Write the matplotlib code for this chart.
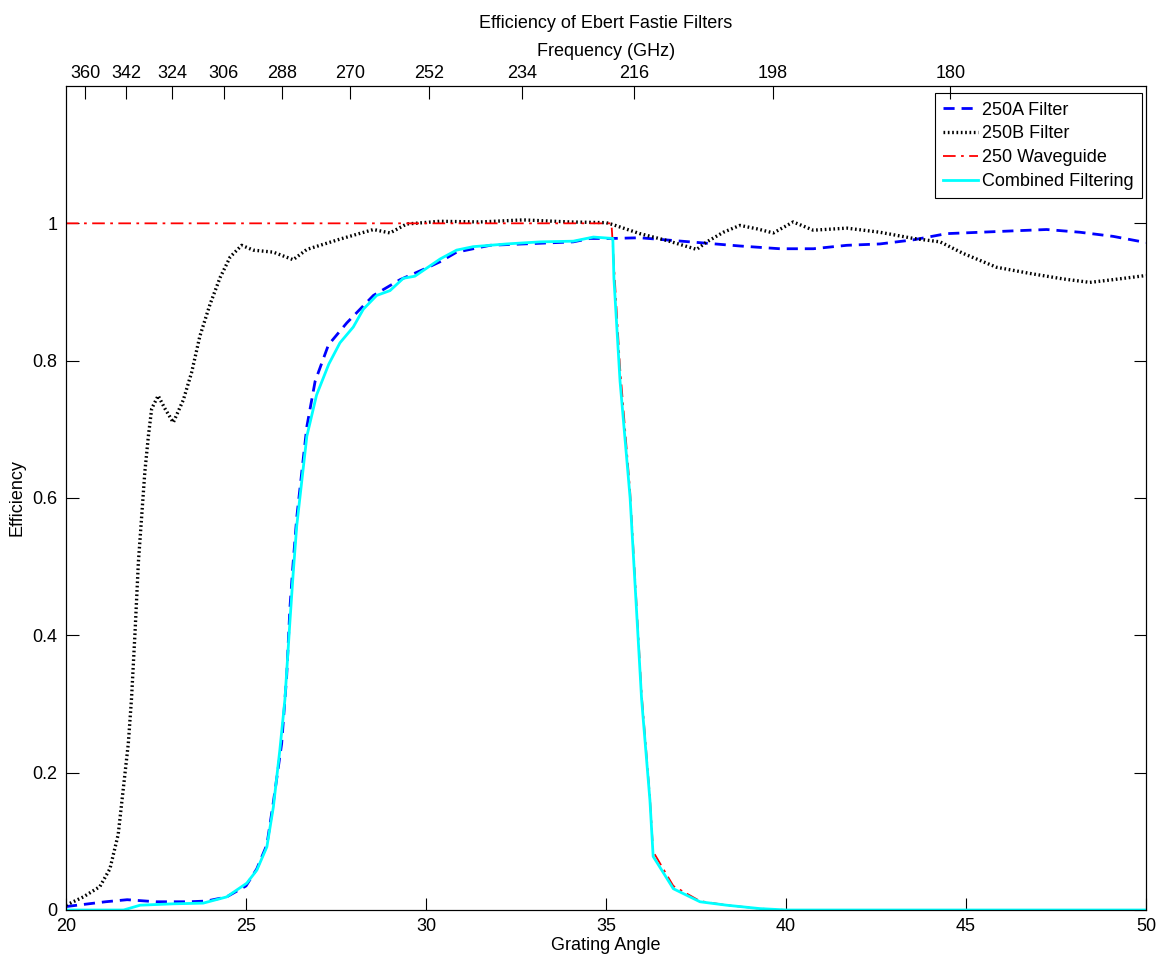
"""
Efficiency of Ebert Fastie filters vs grating angle
"""

import numpy as np
import matplotlib
matplotlib.use('Agg')
import matplotlib.pyplot as plt

plt.rcParams['font.family'] = ['Liberation Sans', 'DejaVu Sans']
plt.rcParams['font.size'] = 13

# 250A filter (blue dashed)
ang_a = [20.0, 21.1, 21.7, 22.5, 23.4, 23.9, 24.46, 25.0, 25.3, 25.58, 25.76, 25.99, 26.13,
         26.22, 26.31, 26.41, 26.55, 26.69, 26.92, 27.29, 27.8, 28.54, 29.28, 30.02,
         30.39, 30.85, 31.78, 33.17, 34.09, 34.56, 35.2, 35.94, 36.87, 37.8, 38.72,
         39.83, 40.76, 41.69, 42.61, 43.54, 44.46, 45.39, 46.3, 47.24, 48.17, 49.09, 50.0]
eff_a = [0.005, 0.012, 0.015, 0.012, 0.012, 0.013, 0.019, 0.035, 0.06, 0.095, 0.157, 0.242, 0.341,
         0.44, 0.506, 0.572, 0.638, 0.704, 0.77, 0.823, 0.855, 0.895, 0.918, 0.935,
         0.944, 0.958, 0.968, 0.971, 0.973, 0.978, 0.978, 0.979, 0.975, 0.971, 0.967,
         0.963, 0.963, 0.968, 0.970, 0.976, 0.985, 0.987, 0.989, 0.991, 0.987, 0.981, 0.972]

# 250B filter (black dotted)
ang_b = [20.0, 20.48, 20.94, 21.22, 21.45, 21.59, 21.73, 21.82, 21.92, 22.01, 22.1, 22.19,
         22.29, 22.38, 22.56, 22.75, 22.98, 23.26, 23.49, 23.72, 24.0, 24.28, 24.56, 24.88,
         25.2, 25.76, 26.31, 26.69, 27.61, 28.54, 29.0, 29.46, 30.39, 31.5, 32.7, 34.0,
         35.0, 35.2, 35.94, 36.69, 37.52, 37.8, 38.26, 38.72, 39.19, 39.65, 40.2, 40.76,
         41.69, 42.61, 43.54, 44.28, 44.93, 45.85, 46.78, 47.7, 48.44, 49.09, 50.0]
eff_b = [0.007, 0.019, 0.034, 0.06, 0.11, 0.176, 0.242, 0.308, 0.407, 0.506, 0.572, 0.638,
         0.691, 0.73, 0.749, 0.73, 0.71, 0.743, 0.783, 0.836, 0.882, 0.921, 0.951, 0.968,
         0.961, 0.958, 0.947, 0.962, 0.977, 0.991, 0.986, 0.999, 1.003, 1.002, 1.005, 1.002,
         1.001, 0.998, 0.985, 0.975, 0.962, 0.973, 0.987, 0.997, 0.992, 0.986, 1.002, 0.990,
         0.993, 0.987, 0.978, 0.973, 0.956, 0.936, 0.927, 0.919, 0.914, 0.918, 0.924]

# 250 waveguide (red dash-dot)
ang_w = [20.0, 35.15, 35.17, 35.22, 35.39, 35.67, 35.99, 36.22, 36.31, 36.87, 37.61,
         38.35, 39.28, 40.0, 50.0]
eff_w = [1.0, 1.0, 0.985, 0.94, 0.79, 0.61, 0.315, 0.165, 0.085, 0.035, 0.013,
         0.007, 0.002, 0.0, 0.0]

# combined filtering (cyan)
ang_c = [20.0, 21.6, 22.06, 22.98, 23.81, 24.46, 25.02, 25.3, 25.58, 25.76, 25.94, 26.08,
         26.22, 26.31, 26.41, 26.55, 26.69, 26.96, 27.3, 27.61, 27.98, 28.26, 28.63, 29.0,
         29.37, 29.69, 30.39, 30.85, 31.31, 32.24, 33.17, 34.09, 34.65, 35.19, 35.22,
         35.39, 35.67, 35.99, 36.22, 36.31, 36.87, 37.61, 38.35, 39.28, 40.02, 50.0]
eff_c = [0.0, 0.0, 0.007, 0.009, 0.01, 0.019, 0.039, 0.058, 0.092, 0.15, 0.233, 0.306,
         0.42, 0.49, 0.56, 0.625, 0.69, 0.75, 0.795, 0.826, 0.849, 0.875, 0.895, 0.902,
         0.92, 0.923, 0.948, 0.961, 0.966, 0.970, 0.973, 0.974, 0.98, 0.978, 0.92,
         0.77, 0.6, 0.306, 0.16, 0.078, 0.031, 0.012, 0.007, 0.002, 0.0, 0.0]

# top axis frequency labels (GHz); angle from f = K / sin(theta)
freq_ticks = [360, 342, 324, 306, 288, 270, 252, 234, 216, 198, 180]
K_GHZ = 126.3

fig = plt.figure(figsize=(11.68, 9.6), dpi=100)
ax = fig.add_axes([66/1168, 1-910/960, (1146-66)/1168, (910-86)/960])

ax.plot(ang_a, eff_a, color='blue', lw=2, ls=(0, (4, 2.5)), label='250A Filter')
ax.plot(ang_b, eff_b, color='black', lw=2.4, ls=(0, (0.5, 0.8)), label='250B Filter')
ax.plot(ang_w, eff_w, color='red', lw=1.3, ls=(0, (7, 3, 1.5, 3)), label='250 Waveguide')
ax.plot(ang_c, eff_c, color='cyan', lw=2, label='Combined Filtering')

ax.set_xlim(20, 50)
ax.set_ylim(0, 1.2)
ax.set_xticks([20, 25, 30, 35, 40, 45, 50])
ax.set_yticks([0, 0.2, 0.4, 0.6, 0.8, 1.0])
ax.set_yticklabels(['0', '0.2', '0.4', '0.6', '0.8', '1'])
ax.tick_params(direction='in', length=9, top=False, right=True)
ax.tick_params(axis='x', pad=6)
ax.tick_params(axis='y', pad=6)
ax.set_xlabel('Grating Angle', labelpad=1)
ax.set_ylabel('Efficiency', labelpad=5)

ax2 = ax.twiny()
ax2.set_xlim(20, 50)
ax2.set_xticks(np.degrees(np.arcsin(K_GHZ / np.array(freq_ticks, dtype=float))))
ax2.set_xticklabels([str(f) for f in freq_ticks])
ax2.tick_params(direction='in', length=9, pad=3)
ax2.set_xlabel('Frequency (GHz)', labelpad=6)
ax2.set_title('Efficiency of Ebert Fastie Filters', pad=11, fontsize=13)

leg = ax.legend(loc='upper right', bbox_to_anchor=(0.9965, 0.991), handlelength=1.95,
                handletextpad=0.25, borderpad=0.45, labelspacing=0.38, fancybox=False,
                framealpha=1, edgecolor='black', borderaxespad=0)
leg.get_frame().set_linewidth(0.8)

plt.savefig('out.png', dpi=100)
